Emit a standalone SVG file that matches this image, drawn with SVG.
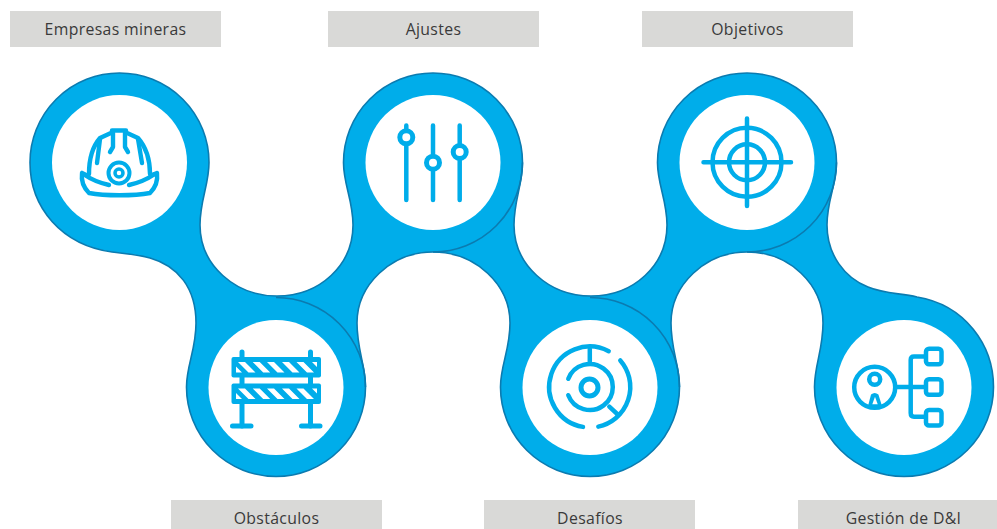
<svg xmlns="http://www.w3.org/2000/svg" xmlns:xlink="http://www.w3.org/1999/xlink" width="997" height="529" viewBox="0 0 997 529">
<style>
.lab{fill:#d9d9d7}
.t{font-family:"Open Sans","Noto Sans",sans-serif;font-size:15.8px;letter-spacing:.35px;fill:#3a3a3a;text-anchor:middle}
.hole{fill:#fff}
.i{fill:none;stroke:#00adea;stroke-width:4.5;stroke-linecap:round;stroke-linejoin:round}
.k{stroke-width:4.4}
.p{stroke-width:5}
.edge{fill:none;stroke:#0b7bb0;stroke-width:1.6}
.b{fill:#00adea}
.w{fill:#fff}
</style>
<defs>
<g id="panel">
<rect class="b" x="231.500" y="0" width="89.500" height="20.500" rx="2"/>
<path class="w" d="M238,5H245L255.500,15.500H248.500ZM252.700,5H259.700L270.200,15.500H263.200ZM267,5H274L284.500,15.500H277.500ZM282,5H289L299.500,15.500H292.500ZM296.500,5H303.500L314,15.500H307ZM236,9.500V15.500H242ZM312,5H317V10Z"/>
</g>
</defs>
<rect width="997" height="529" fill="#fff"/>
<g id="connectors">
<path d="M30,162.500A89.500,89.500 0 0 1 209,162.500C209,185 200,200 200,225C200,265 235,296 277,296C320,296 353,265 353,225C353,200 343.500,185 343.500,162.500A89.500,89.500 0 0 1 522.500,162.500C522.500,185 514,200 514,225C514,265 549,296 591,296C634,296 667,265 667,225C667,200 657.500,185 657.500,162.500A89.500,89.500 0 0 1 836.500,162.500C836.500,185 827,200 827,225C827,255 845,278 868,287C885,294 900,293 917,297C965,305 993.500,345 993.500,387A89.500,89.500 0 0 1 814.500,387C814.500,365 823,350 823,323C823,285 790,252 747,252C705,252 671,285 671,323C671,350 679.500,365 679.500,387A89.500,89.500 0 0 1 500.500,387C500.500,365 510,350 510,323C510,285 476,252 433,252C391,252 357,285 357,323C357,350 365.500,365 365.500,387A89.500,89.500 0 0 1 186.500,387C186.500,365 196,350 196,323C196,288 178,266 150,258C138,254.500 128,254 112,252C62,245 30,208 30,162.500Z" fill="#00adea" stroke="#0b7bb0" stroke-width="1.6"/>
<path class="edge" d="M276,297.500A89.500,89.500 0 0 1 365.500,387"/>
<path class="edge" d="M590,297.500A89.500,89.500 0 0 1 679.500,387"/>
<path class="edge" d="M433,252A89.500,89.500 0 0 0 522.500,162.500"/>
<path class="edge" d="M747,252A89.500,89.500 0 0 0 836.500,162.500"/>
</g>
<g id="node-empresas">
<rect class="lab" x="10" y="11" width="211" height="36"/>
<text class="t" x="115.500" y="35">Empresas mineras</text>
<circle class="hole" cx="119.500" cy="162.500" r="67.500"/>
<path class="i k" d="M89,174C89,157 93,146 100,138L112,132.500V130.500H126V132.500L138,138C145,146 150,157 150,174"/>
<path class="i k" d="M84,174.500C92,180 100,183 109,185M154,174.500C146,180 138,183 129,185"/>
<path class="i k" d="M82,173C81,181 84,188 89,193C105,196 134,196 150,193C155,188 158,181 157,173L152,175M82,173L86,175"/>
<path class="i k" d="M113,133V147L110,152M125,133V147L128,152M100,139L97,163M138,139L142,163"/>
<circle cx="119" cy="173" r="10.500" fill="#fff" stroke="#00adea" stroke-width="4"/>
<circle cx="119" cy="173" r="4" fill="#fff" stroke="#00adea" stroke-width="3.500"/>
</g>
<g id="node-obstaculos">
<rect class="lab" x="171" y="500" width="211" height="36"/>
<text class="t" x="276.500" y="524">Obstáculos</text>
<circle class="hole" cx="276" cy="387.500" r="67.500"/>
<path class="i p" d="M242,352V426M310.500,352V426"/>
<path class="i p" d="M232.500,426H251M301.500,426H320"/>
<use xlink:href="#panel" href="#panel" y="357"/>
<use xlink:href="#panel" href="#panel" y="383.500"/>
</g>
<g id="node-ajustes">
<rect class="lab" x="328" y="11" width="211" height="36"/>
<text class="t" x="433.500" y="35">Ajustes</text>
<circle class="hole" cx="433" cy="162.500" r="67.500"/>
<path class="i" d="M406.300,125.500V200M433,125.500V200M459.700,125.500V200"/>
<circle cx="406.300" cy="137.300" r="6.500" fill="#fff" stroke="#00adea" stroke-width="5"/>
<circle cx="433" cy="162.700" r="6.500" fill="#fff" stroke="#00adea" stroke-width="5"/>
<circle cx="459.700" cy="152" r="6.500" fill="#fff" stroke="#00adea" stroke-width="5"/>
</g>
<g id="node-desafios">
<rect class="lab" x="484" y="500" width="211" height="36"/>
<text class="t" x="590" y="524">Desafíos</text>
<circle class="hole" cx="590" cy="387.500" r="67.500"/>
<circle cx="589.500" cy="387.500" r="8.500" fill="none" stroke="#00adea" stroke-width="5"/>
<path class="i" d="M608.700,351.200A40.500,40.500 0 1 0 583,426.900M598.300,426.600A40.500,40.500 0 0 0 620.300,360.400"/>
<path class="i" d="M568.300,378.800A23,23 0 1 1 568.300,395.200M589.800,349V363M609.300,406.700L618.300,415"/>
</g>
<g id="node-objetivos">
<rect class="lab" x="642" y="11" width="211" height="36"/>
<text class="t" x="747.500" y="35">Objetivos</text>
<circle class="hole" cx="747" cy="162.500" r="67.500"/>
<circle cx="747" cy="162.300" r="34.500" fill="none" stroke="#00adea" stroke-width="4.500"/>
<circle cx="747" cy="162.300" r="18" fill="none" stroke="#00adea" stroke-width="4.500"/>
<path class="i" d="M703.500,162.300H791M747,118.500V206"/>
</g>
<g id="node-gestion">
<rect class="lab" x="798" y="500" width="211" height="36"/>
<text class="t" x="903.500" y="524">Gestión de D&amp;I</text>
<circle class="hole" cx="904" cy="387.500" r="67.500"/>
<path class="b" d="M868.300,405L871,394.500Q874.700,391.500 878.400,394.500L881.700,405Q875,409 868.300,405Z"/>
<path class="w" d="M875,396.700L872.300,404.300H877.700Z"/>
<circle cx="874.700" cy="387.300" r="20.500" fill="none" stroke="#00adea" stroke-width="4.500"/>
<circle cx="874.700" cy="379.300" r="5.500" fill="none" stroke="#00adea" stroke-width="4.500"/>
<path class="i" d="M897,387H925M925,356.500H914Q910.700,356.500 910.700,360V413Q910.700,416.700 914,416.700H925" stroke-linecap="butt"/>
<rect x="926" y="348.700" width="15.500" height="15.500" rx="3" fill="#fff" stroke="#00adea" stroke-width="4.500"/>
<rect x="926" y="379.200" width="15.500" height="15.500" rx="3" fill="#fff" stroke="#00adea" stroke-width="4.500"/>
<rect x="926" y="410" width="15.500" height="15.500" rx="3" fill="#fff" stroke="#00adea" stroke-width="4.500"/>
</g>
</svg>
